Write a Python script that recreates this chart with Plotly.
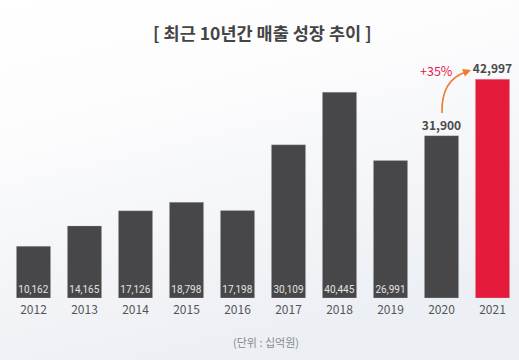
import base64
import plotly.graph_objects as go

years = ["2012", "2013", "2014", "2015", "2016", "2017", "2018", "2019", "2020", "2021"]
sales = [10162, 14165, 17126, 18798, 17198, 30109, 40445, 26991, 31900, 42997]
highlight_year = "2021"
growth_label = "+35%"
title_text = "[ 최근 10년간 매출 성장 추이 ]"
unit_text = "(단위 : 십억원)"

colors = ["#e41b3a" if y == highlight_year else "#474749" for y in years]
positions = ["outside" if y in ("2020", "2021") else "inside" for y in years]
labels = [f"{v:,}" for v in sales]

fig = go.Figure(go.Bar(
    x=years, y=sales, marker=dict(color=colors, line=dict(color="rgba(200,200,200,0.5)", width=0.6)),
    text=labels, textposition=positions, insidetextanchor="start", textangle=0,
    constraintext="none", cliponaxis=False,
    insidetextfont=dict(family="Roboto", size=10, color="#e2e2e2"),
    outsidetextfont=dict(family="Noto Sans CJK KR", size=12, color="#4a4a4a", weight="bold"),
    hoverinfo="skip",
))

H, W, T, B, L, R = 360, 519, 60, 62, 8, 1
ph = H - T - B
pw = W - L - R
def px(x): return (x - L) / pw
def py(y): return (H - B - y) / ph

svg = ('<svg xmlns="http://www.w3.org/2000/svg" width="519" height="360">'
       '<defs><linearGradient id="g" x1="0" y1="0" x2="0.35" y2="1">'
       '<stop offset="0" stop-color="#ffffff"/><stop offset="0.35" stop-color="#fcfcfd"/>'
       '<stop offset="1" stop-color="#eceff4"/></linearGradient></defs>'
       '<rect width="519" height="360" fill="url(#g)"/></svg>')
bg_src = "data:image/svg+xml;base64," + base64.b64encode(svg.encode()).decode()

fig.update_layout(
    width=W, height=H,
    margin=dict(l=L, r=R, t=T, b=B),
    paper_bgcolor="#f6f7f9", plot_bgcolor="rgba(0,0,0,0)",
    bargap=0.33, showlegend=False,
    xaxis=dict(showgrid=False, zeroline=False, showline=False, ticks="", ticklabelstandoff=3,
               tickfont=dict(family="Noto Sans CJK KR", size=12, color="#555555"), fixedrange=True),
    yaxis=dict(range=[0, 46760], visible=False, fixedrange=True),
    images=[dict(source=bg_src, xref="paper", yref="paper", x=px(0), y=py(0),
                 sizex=W / pw, sizey=H / ph, sizing="stretch", xanchor="left", yanchor="top",
                 layer="below")],
    annotations=[
        dict(text=title_text, x=px(262), y=py(33), xref="paper", yref="paper", showarrow=False,
             xanchor="center", yanchor="middle",
             font=dict(family="Noto Sans CJK KR", size=17.5, color="#444444", weight="bold")),
        dict(text=unit_text, x=px(266), y=py(342), xref="paper", yref="paper", showarrow=False,
             xanchor="center", yanchor="middle",
             font=dict(family="Noto Sans CJK KR", size=11, color="#8a8a8a")),
        dict(text=growth_label, x=px(436), y=py(71), xref="paper", yref="paper", showarrow=False,
             xanchor="center", yanchor="middle",
             font=dict(family="Noto Sans CJK KR", size=12.5, color="#e8194a")),
    ],
)

# curved arrow (decoration)
fig.add_shape(type="path", xref="paper", yref="paper",
              path=f"M {px(442)},{py(113)} Q {px(441)},{py(80)} {px(466)},{py(72)}",
              line=dict(color="#f07a2c", width=1.6))
fig.add_annotation(x=px(471), y=py(70), ax=-8, ay=3, xref="paper", yref="paper",
                   axref="pixel", ayref="pixel", showarrow=True, arrowhead=2, arrowsize=1,
                   arrowwidth=1.6, arrowcolor="#f07a2c", text="")

fig.write_html("out.html", config={"displayModeBar": False},
               post_script="document.body.style.margin='0';")
